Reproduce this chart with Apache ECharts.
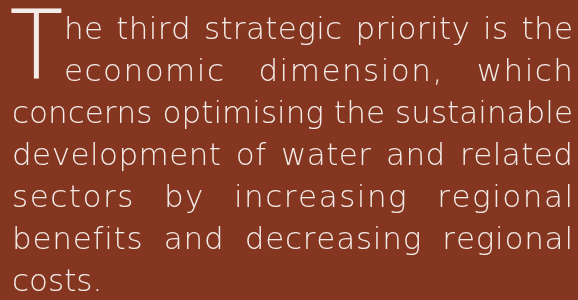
<!DOCTYPE html>
<html lang="en">
<head>
    <meta charset="UTF-8">
    <title>Strategic priority</title>
    <style>
        html, body { margin: 0; padding: 0; background: #843620; }
    </style>
</head>
<body>
<div id="main" style="width: 578px;height: 300px;"></div>
<script src="https://cdn.jsdelivr.net/npm/echarts@6/dist/echarts.min.js"></script>
<script type="text/javascript">
    // text content, one entry per printed line
    var dropCap = 'T';
    var textLines = [
        'he third strategic priority is the',
        'economic dimension, which',
        'concerns optimising the sustainable',
        'development of water and related',
        'sectors by increasing regional',
        'benefits and decreasing regional',
        'costs.'
    ];
    var justified = [true, true, true, true, true, true, false];

    var fontFamily = '"DejaVu Sans", sans-serif';
    var fontSize = 31;
    var fontWeight = 200;
    var textColor = '#f4ece8';
    var font = fontWeight + ' ' + fontSize + 'px ' + fontFamily;

    var myChart = echarts.init(document.getElementById('main'));

    var ctx = document.createElement('canvas').getContext('2d');
    ctx.font = font;

    var elements = [];
    // big initial letter
    elements.push({
        type: 'text',
        x: 11,
        y: 2,
        style: {
            text: dropCap,
            fill: textColor,
            font: '200 97px "Open Sans", sans-serif'
        }
    });

    textLines.forEach(function (line, i) {
        var x0 = i < 2 ? 64 : 12;
        var x1 = 573;
        var top = 39 + i * 42 - 24;
        var chars = line.split('');
        var widths = chars.map(function (c) { return ctx.measureText(c).width; });
        var natural = widths.reduce(function (a, b) { return a + b; }, 0);
        var nSpaces = chars.filter(function (c) { return c === ' '; }).length;
        var ls = 0, extraGap = 0;
        if (justified[i]) {
            var extra = (x1 - x0) - natural;
            ls = extra * 0.45 / (chars.length - 1);
            extraGap = nSpaces ? extra * 0.55 / nSpaces : 0;
        }
        var x = x0;
        chars.forEach(function (c, k) {
            if (c !== ' ') {
                elements.push({
                    type: 'text',
                    x: x,
                    y: top,
                    style: { text: c, fill: textColor, font: font }
                });
            }
            x += widths[k] + ls + (c === ' ' ? extraGap : 0);
        });
    });

    myChart.setOption({
        backgroundColor: '#843620',
        graphic: { elements: elements }
    });
</script>
</body>
</html>
